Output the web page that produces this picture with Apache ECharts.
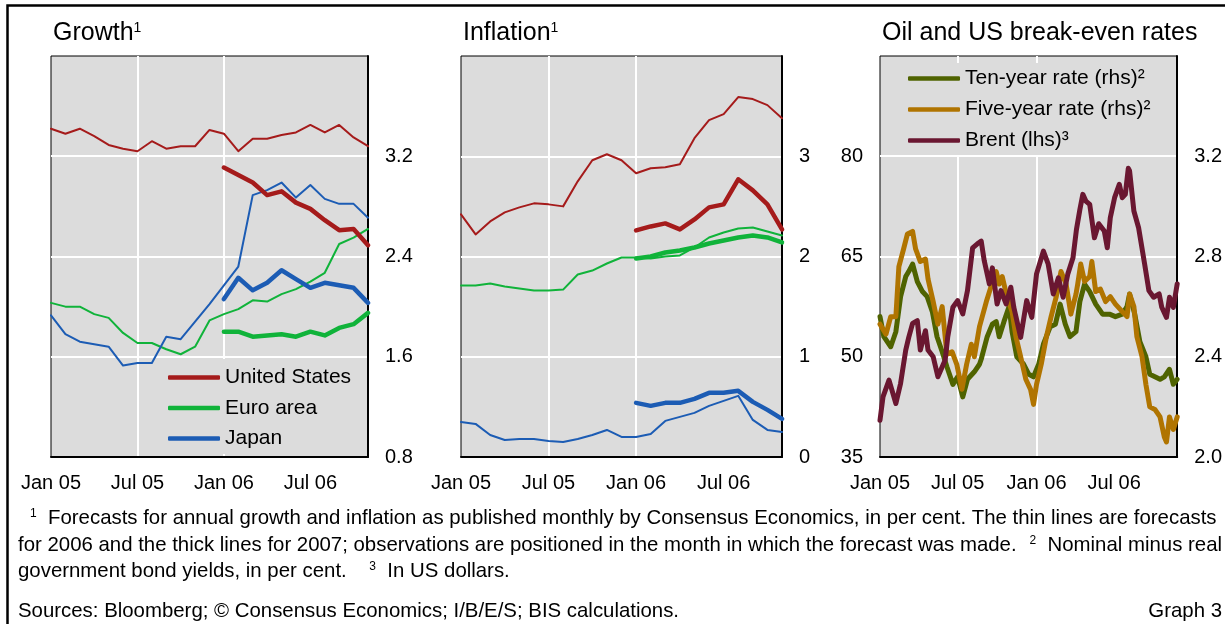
<!DOCTYPE html>
<html>
<head>
<meta charset="utf-8">
<script src="https://cdn.jsdelivr.net/npm/echarts@6/dist/echarts.min.js"></script>
<style>
  html, body { margin: 0; padding: 0; background: #fff; }
  #chart { width: 1225px; height: 624px; }
</style>
</head>
<body>
<div id="chart"></div>
<script>
// Monthly survey dates (Consensus forecasts)
const months = ['Jan 05','Feb 05','Mar 05','Apr 05','May 05','Jun 05','Jul 05','Aug 05','Sep 05','Oct 05','Nov 05','Dec 05',
                'Jan 06','Feb 06','Mar 06','Apr 06','May 06','Jun 06','Jul 06','Aug 06','Sep 06','Oct 06','Nov 06'];
const pad12 = [null,null,null,null,null,null,null,null,null,null,null,null];

// Growth forecasts, per cent (thin = for 2006, thick = for 2007)
const growthUS2006 = [3.42,3.38,3.42,3.36,3.29,3.26,3.24,3.32,3.26,3.28,3.28,3.41,3.38,3.24,3.34,3.34,3.37,3.39,3.45,3.39,3.45,3.35,3.28];
const growthUS2007 = [3.11,3.05,2.99,2.89,2.92,2.83,2.78,2.69,2.61,2.62,2.49];
const growthEA2006 = [2.03,2.00,2.00,1.94,1.91,1.79,1.71,1.71,1.66,1.62,1.68,1.89,1.94,1.98,2.05,2.04,2.10,2.14,2.20,2.27,2.50,2.55,2.62];
const growthEA2007 = [1.80,1.80,1.76,1.77,1.78,1.76,1.80,1.77,1.83,1.86,1.95];
const growthJP2006 = [1.93,1.78,1.72,1.70,1.68,1.53,1.55,1.55,1.76,1.74,1.88,2.02,2.17,2.32,2.89,2.93,2.99,2.87,2.97,2.86,2.82,2.82,2.71];
const growthJP2007 = [2.06,2.23,2.13,2.19,2.29,2.22,2.15,2.19,2.17,2.15,2.03];

// Inflation forecasts, per cent
const inflUS2006 = [2.42,2.22,2.35,2.44,2.49,2.53,2.52,2.50,2.75,2.96,3.02,2.96,2.83,2.88,2.89,2.92,3.18,3.36,3.42,3.59,3.57,3.51,3.38];
const inflUS2007 = [2.26,2.30,2.33,2.27,2.37,2.49,2.52,2.77,2.66,2.52,2.27];
const inflEA2006 = [1.71,1.71,1.73,1.70,1.68,1.66,1.66,1.67,1.82,1.86,1.93,1.99,1.99,1.98,2.00,2.01,2.09,2.19,2.24,2.28,2.29,2.25,2.21];
const inflEA2007 = [1.98,2.00,2.04,2.06,2.09,2.13,2.16,2.19,2.21,2.19,2.14];
const inflJP2006 = [0.35,0.33,0.22,0.17,0.18,0.18,0.16,0.15,0.18,0.22,0.27,0.20,0.20,0.23,0.36,0.40,0.44,0.51,0.56,0.61,0.37,0.27,0.25];
const inflJP2007 = [0.54,0.51,0.54,0.54,0.58,0.64,0.64,0.66,0.55,0.47,0.38];

// Oil and break-even rates: [days since 1 Jan 2005, value]
const brent = [[0,40.5],[7,44.0],[21,46.5],[37,43.0],[48,46.0],[60,51.0],[67,52.9],[76,55.0],[87,55.4],[94,51.0],[106,53.9],[112,51.0],[124,50.0],[135,47.0],[152,49.5],[158,53.0],[170,57.4],[181,58.4],[193,56.4],[204,59.9],[216,66.3],[227,66.9],[236,67.3],[243,64.4],[255,60.9],[262,63.3],[273,57.9],[282,59.9],[294,57.9],[305,60.4],[312,57.4],[328,52.9],[342,58.4],[354,55.9],[365,62.4],[381,65.8],[392,63.9],[404,59.4],[416,61.8],[427,58.9],[438,62.4],[450,64.8],[458,69.0],[466,72.0],[473,74.3],[480,73.3],[489,72.8],[500,67.8],[510,69.9],[523,68.8],[530,66.3],[537,70.8],[547,73.8],[558,75.8],[565,73.8],[572,74.3],[579,78.2],[582,77.8],[592,71.8],[603,69.3],[617,63.9],[627,59.9],[638,58.9],[651,59.4],[657,57.4],[668,55.9],[675,58.9],[684,57.4],[693,60.9]];
const tenYear = [[0,2.56],[9,2.48],[25,2.44],[37,2.50],[48,2.64],[60,2.72],[67,2.74],[76,2.77],[87,2.70],[99,2.66],[110,2.64],[122,2.58],[133,2.48],[145,2.42],[156,2.36],[170,2.29],[181,2.32],[193,2.24],[204,2.31],[220,2.34],[232,2.37],[236,2.39],[250,2.48],[262,2.53],[271,2.54],[278,2.48],[289,2.54],[301,2.60],[308,2.50],[319,2.40],[335,2.37],[347,2.33],[358,2.32],[370,2.37],[381,2.45],[397,2.52],[409,2.53],[420,2.61],[432,2.53],[443,2.48],[457,2.50],[466,2.62],[477,2.69],[489,2.66],[503,2.61],[519,2.57],[535,2.57],[549,2.56],[565,2.57],[576,2.60],[582,2.65],[594,2.57],[606,2.46],[620,2.40],[629,2.33],[641,2.32],[653,2.31],[663,2.32],[675,2.35],[684,2.29],[693,2.31]];
const fiveYear = [[0,2.53],[14,2.49],[25,2.56],[37,2.56],[44,2.76],[55,2.83],[64,2.89],[76,2.90],[83,2.83],[94,2.78],[106,2.79],[112,2.71],[124,2.62],[135,2.53],[145,2.60],[156,2.41],[168,2.42],[179,2.37],[191,2.27],[202,2.37],[213,2.45],[220,2.40],[232,2.52],[248,2.62],[259,2.68],[271,2.74],[278,2.69],[285,2.72],[296,2.64],[308,2.58],[317,2.48],[328,2.40],[340,2.31],[351,2.27],[358,2.21],[365,2.29],[376,2.37],[388,2.48],[399,2.56],[411,2.64],[422,2.74],[434,2.69],[445,2.57],[457,2.65],[461,2.69],[468,2.77],[477,2.70],[489,2.72],[494,2.78],[503,2.66],[514,2.67],[526,2.62],[537,2.64],[549,2.61],[565,2.58],[576,2.56],[582,2.65],[592,2.60],[599,2.48],[611,2.40],[620,2.29],[629,2.20],[641,2.19],[653,2.16],[663,2.08],[668,2.06],[675,2.16],[684,2.11],[693,2.16]];
const oilTickDays = [0, 181, 365, 546];
const oilTickLabels = ['Jan 05', 'Jul 05', 'Jan 06', 'Jul 06'];

const FONT = 'Liberation Sans, Arial, sans-serif';
const C_US = '#a51b1b', C_EA = '#10b33a', C_JP = '#1c5cb4';
const C_TEN = '#4f6300', C_FIVE = '#b07400', C_BRENT = '#6a1731';
const PLOT_BG = '#dcdcdc';
const NOTE_SIZE = 20.4;

const chart = echarts.init(document.getElementById('chart'), null, { renderer: 'canvas' });

const gridBase = { show: true, backgroundColor: PLOT_BG, borderColor: '#000', borderWidth: 1, containLabel: false };
const whiteSplit = { show: true, showMinLine: false, showMaxLine: false, lineStyle: { color: '#fff', width: 2 } };
const tickLabel = { color: '#000', fontSize: 20, fontFamily: FONT };

function monthAxis(gi) {
  return {
    type: 'category', gridIndex: gi, data: months, boundaryGap: false,
    axisLine: { show: true, onZero: false, lineStyle: { color: '#000', width: 2 } },
    axisTick: { show: false },
    axisLabel: Object.assign({ interval: 5, margin: 16 }, tickLabel),
    splitLine: Object.assign({ interval: 5 }, whiteSplit)
  };
}
function rightValueAxis(gi, min, max, step, digits) {
  return {
    type: 'value', gridIndex: gi, position: 'right', min: min, max: max, interval: step,
    axisLine: { show: true, lineStyle: { color: '#000', width: 2 } },
    axisTick: { show: false },
    axisLabel: Object.assign({ margin: 17, showMaxLabel: false, formatter: v => v.toFixed(digits) }, tickLabel),
    splitLine: whiteSplit
  };
}
function monthLine(name, gi, data, color, width) {
  return {
    type: 'line', name: name, xAxisIndex: gi, yAxisIndex: gi, data: data,
    showSymbol: false, symbol: 'none', color: color,
    lineStyle: { color: color, width: width, cap: 'round', join: 'round' },
    emphasis: { disabled: true }, silent: true
  };
}
function dailyLine(name, yi, data, color) {
  return {
    type: 'line', name: name, xAxisIndex: 2, yAxisIndex: yi, data: data,
    showSymbol: false, symbol: 'none', color: color,
    lineStyle: { color: color, width: 5, cap: 'round', join: 'round' },
    emphasis: { disabled: true }, silent: true
  };
}
function noteStyle(text, extra) {
  return Object.assign({
    verticalAlign: 'middle', text: text,
    rich: {
      n: { fontSize: NOTE_SIZE, fontFamily: FONT, fill: '#000' },
      s: { fontSize: 12, fontFamily: FONT, fill: '#000', verticalAlign: 'top' }
    }
  }, extra || {});
}
const titleRich = {
  t: { fontSize: 25, fontFamily: FONT, fill: '#000' },
  s: { fontSize: 14, fontFamily: FONT, fill: '#000', verticalAlign: 'top' }
};

const legendText = { color: '#000', fontSize: 21, fontFamily: FONT };

const option = {
  animation: false,
  textStyle: { fontFamily: FONT },
  grid: [
    Object.assign({ left: 51, top: 56, width: 317, height: 401 }, gridBase),
    Object.assign({ left: 461, top: 56, width: 321, height: 401 }, gridBase),
    Object.assign({ left: 880, top: 56, width: 302, height: 401 }, gridBase)
  ],
  xAxis: [
    monthAxis(0),
    monthAxis(1),
    {
      type: 'value', gridIndex: 2, min: 0, max: 693,
      axisLine: { show: true, onZero: false, lineStyle: { color: '#000', width: 2 } },
      axisTick: { show: false, customValues: oilTickDays },
      axisLabel: Object.assign({ margin: 16, customValues: oilTickDays,
        formatter: v => oilTickLabels[oilTickDays.indexOf(v)] }, tickLabel),
      splitLine: whiteSplit
    }
  ],
  yAxis: [
    rightValueAxis(0, 0.8, 4.0, 0.8, 1),
    rightValueAxis(1, 0, 4, 1, 0),
    {
      type: 'value', gridIndex: 2, position: 'left', min: 35, max: 95,
      axisLine: { show: false }, axisTick: { show: false },
      axisLabel: Object.assign({ margin: 17, customValues: [35, 50, 65, 80] }, tickLabel),
      splitLine: { show: false }
    },
    rightValueAxis(2, 2.0, 3.6, 0.4, 1)
  ],
  legend: [
    {
      data: ['United States', 'Euro area', 'Japan'], orient: 'vertical',
      left: 162, top: 359, itemWidth: 52, itemHeight: 4.5, itemGap: 9.5,
      icon: 'roundRect', padding: [8, 10, 5, 6], backgroundColor: PLOT_BG,
      textStyle: legendText, selectedMode: false
    },
    {
      data: ['Ten-year rate (rhs)²', 'Five-year rate (rhs)²', 'Brent (lhs)³'], orient: 'vertical',
      left: 902, top: 63, itemWidth: 52, itemHeight: 4.5, itemGap: 10,
      icon: 'roundRect', padding: [5, 10, 4, 6], backgroundColor: PLOT_BG,
      textStyle: legendText, selectedMode: false
    }
  ],
  series: [
    monthLine('United States', 0, growthUS2006, C_US, 2),
    monthLine('Euro area', 0, growthEA2006, C_EA, 2),
    monthLine('Japan', 0, growthJP2006, C_JP, 2),
    monthLine('United States', 0, pad12.concat(growthUS2007), C_US, 4.5),
    monthLine('Euro area', 0, pad12.concat(growthEA2007), C_EA, 4.5),
    monthLine('Japan', 0, pad12.concat(growthJP2007), C_JP, 4.5),

    monthLine('US inflation', 1, inflUS2006, C_US, 2),
    monthLine('EA inflation', 1, inflEA2006, C_EA, 2),
    monthLine('JP inflation', 1, inflJP2006, C_JP, 2),
    monthLine('US inflation', 1, pad12.concat(inflUS2007), C_US, 4.5),
    monthLine('EA inflation', 1, pad12.concat(inflEA2007), C_EA, 4.5),
    monthLine('JP inflation', 1, pad12.concat(inflJP2007), C_JP, 4.5),

    dailyLine('Ten-year rate (rhs)²', 3, tenYear, C_TEN),
    dailyLine('Five-year rate (rhs)²', 3, fiveYear, C_FIVE),
    dailyLine('Brent (lhs)³', 2, brent, C_BRENT)
  ],
  graphic: [
    { type: 'rect', silent: true, z: 100,
      shape: { x: 7.5, y: 5.5, width: 1400, height: 800 },
      style: { fill: 'none', stroke: '#000', lineWidth: 2.5 } },
    { type: 'text', left: 53, top: 21, silent: true,
      style: { text: '{t|Growth}{s|1}', rich: titleRich } },
    { type: 'text', left: 463, top: 21, silent: true,
      style: { text: '{t|Inflation}{s|1}', rich: titleRich } },
    { type: 'text', left: 882, top: 21, silent: true,
      style: { text: '{t|Oil and US break-even rates}', rich: titleRich } },
    { type: 'text', x: 30, y: 518, silent: true,
      style: noteStyle('{s|1}{n|  Forecasts for annual growth and inflation as published monthly by Consensus Economics, in per cent. The thin lines are forecasts}') },
    { type: 'text', x: 18, y: 545, silent: true,
      style: noteStyle('{n|for 2006 and the thick lines for 2007; observations are positioned in the month in which the forecast was made.}') },
    { type: 'text', x: 1222, y: 545, silent: true,
      style: noteStyle('{s|2}{n|  Nominal minus real}', { align: 'right' }) },
    { type: 'text', x: 18, y: 571, silent: true,
      style: noteStyle('{n|government bond yields, in per cent.    }{s|3}{n|  In US dollars.}') },
    { type: 'text', x: 18, y: 611, silent: true,
      style: noteStyle('{n|Sources: Bloomberg; © Consensus Economics; I/B/E/S; BIS calculations.}') },
    { type: 'text', x: 1222, y: 611, silent: true,
      style: noteStyle('{n|Graph 3}', { align: 'right' }) }
  ]
};

chart.setOption(option);
</script>
</body>
</html>
